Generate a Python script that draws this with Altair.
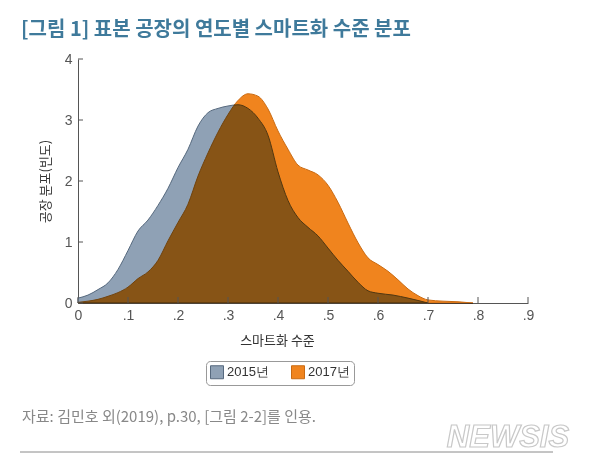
import altair as alt
import pandas as pd

# ---- data ----
x_2015 = [0, .02, .04, .06, .08, .10, .12, .14, .16, .18, .20, .22, .24, .26, .28, .30,
          .32, .34, .36, .38, .40, .42, .44, .46, .48, .50, .52, .54, .56, .58, .60,
          .63, .66, .70]
y_2015 = [0.08, 0.13, 0.22, 0.33, 0.55, 0.86, 1.18, 1.36, 1.60, 1.88, 2.22, 2.52, 2.90,
          3.12, 3.19, 3.23, 3.25, 3.19, 3.03, 2.75, 2.15, 1.68, 1.40, 1.24, 1.10, 0.90,
          0.70, 0.52, 0.34, 0.20, 0.16, 0.13, 0.08, 0.0]

x_2017 = [0, .02, .04, .06, .08, .10, .12, .14, .16, .18, .20, .22, .24, .26, .28, .30,
          .32, .34, .36, .38, .40, .42, .44, .46, .48, .50, .52, .54, .56, .58, .60,
          .62, .64, .66, .68, .70, .73, .76, .79]
y_2017 = [0.01, 0.03, 0.06, 0.11, 0.17, 0.26, 0.40, 0.51, 0.70, 1.02, 1.32, 1.62, 2.08,
          2.46, 2.80, 3.09, 3.32, 3.43, 3.39, 3.18, 2.82, 2.52, 2.26, 2.18, 2.10, 1.93,
          1.65, 1.31, 0.99, 0.74, 0.63, 0.52, 0.38, 0.23, 0.12, 0.05, 0.03, 0.02, 0.0]

years = ["2015년", "2017년"]
fill_colors = ["#8fa1b5", "#f0841e"]
stroke_colors = ["#56697e", "#c96a12"]

x_ticks = [0, .1, .2, .3, .4, .5, .6, .7, .8, .9]
y_ticks = [0, 1, 2, 3, 4]

title_text = "[그림 1] 표본 공장의 연도별 스마트화 수준 분포"
x_title = "스마트화 수준"
y_title = "공장 분포(빈도)"
source_text = "자료: 김민호 외(2019), p.30, [그림 2-2]를 인용."
logo_text = "NEWSIS"

KFONT = "Noto Sans CJK KR"
NFONT = "Liberation Sans"

df15 = pd.DataFrame({"x": x_2015, "y": y_2015, "year": years[0]})
df17 = pd.DataFrame({"x": x_2017, "y": y_2017, "year": years[1]})

xscale = alt.Scale(domain=[0, 0.9], nice=False, zero=False)
yscale = alt.Scale(domain=[0, 4], nice=False)

xaxis = alt.Axis(values=x_ticks,
                 labelExpr="datum.value == 0 ? '0' : replace(format(datum.value, '.1f'), '0.', '.')",
                 ticks=False, tickSize=0, grid=False, domainColor="#555", domainWidth=1,
                 labelFlush=False, labelFont=NFONT, labelFontSize=14, labelColor="#555",
                 labelPadding=5,
                 title=x_title, titleFont=KFONT, titleFontSize=13, titleFontWeight="normal",
                 titleColor="#333", titleX=199, titleY=37, titleBaseline="middle")
yaxis = alt.Axis(values=y_ticks, ticks=False, tickSize=0, grid=False, domainColor="#555",
                 domainWidth=1, labelFlush=False, labelFont=NFONT, labelFontSize=14,
                 labelColor="#555", labelPadding=6, title=y_title, titleFont=KFONT,
                 titleFontSize=13, titleFontWeight="normal", titleColor="#333", titleX=-33,
                 titleY=122, titleBaseline="middle", titleAngle=270)

legend = alt.Legend(title=None, orient="none", legendX=128, legendY=302, direction="horizontal",
                    symbolType="square", symbolSize=169, symbolStrokeWidth=1,
                    labelFont=NFONT, labelFontSize=13, labelColor="#333", labelOffset=3,
                    padding=4, strokeColor="#999", cornerRadius=4, columnPadding=20)

fill_enc = alt.Fill("year:N", scale=alt.Scale(domain=years, range=fill_colors), legend=legend)
stroke_enc = alt.Stroke("year:N", scale=alt.Scale(domain=years, range=stroke_colors), legend=legend)

area15 = alt.Chart(df15).mark_area(interpolate="monotone", strokeWidth=1, opacity=1).encode(
    x=alt.X("x:Q", scale=xscale, axis=xaxis),
    y=alt.Y("y:Q", scale=yscale, axis=yaxis),
    fill=fill_enc, stroke=stroke_enc,
)
area17 = alt.Chart(df17).mark_area(interpolate="monotone", strokeWidth=1, opacity=1,
                                   blend="multiply").encode(
    x=alt.X("x:Q", scale=xscale, axis=xaxis),
    y=alt.Y("y:Q", scale=yscale, axis=yaxis),
    fill=fill_enc, stroke=stroke_enc,
)

xt = alt.Chart(pd.DataFrame({"x": x_ticks})).mark_rule(color="#555", strokeWidth=1).encode(
    x=alt.X("x:Q", scale=xscale, axis=xaxis), y=alt.value(244), y2=alt.value(238))
yt = alt.Chart(pd.DataFrame({"y": y_ticks})).mark_rule(color="#555", strokeWidth=1).encode(
    y=alt.Y("y:Q", scale=yscale, axis=yaxis), x=alt.value(0), x2=alt.value(5))

title = alt.Chart(pd.DataFrame({"t": [title_text]})).mark_text(
    align="left", baseline="middle", font=KFONT, fontSize=20, fontWeight="bold",
    color="#3f7a9b").encode(text="t:N", x=alt.value(-57), y=alt.value(-29))
source = alt.Chart(pd.DataFrame({"t": [source_text]})).mark_text(
    align="left", baseline="middle", font=KFONT, fontSize=15, color="#888").encode(
    text="t:N", x=alt.value(-56), y=alt.value(358))
logo = alt.Chart(pd.DataFrame({"t": [logo_text]})).mark_text(
    align="center", baseline="middle", font=NFONT, fontSize=31, fontWeight="bold",
    fontStyle="italic", fill="white", stroke="#c8c8c8", strokeWidth=1.2).encode(
    text="t:N", x=alt.value(430), y=alt.value(379))
hline = alt.Chart(pd.DataFrame({"a": [0]})).mark_rule(color="#8a8a8a", strokeWidth=1).encode(
    x=alt.value(-58), x2=alt.value(475), y=alt.value(393))

chart = alt.layer(area15, area17, xt, yt, title, source, hline, logo).properties(
    width=450, height=244,
    padding={"left": 70, "top": 51, "right": 58, "bottom": 157},
    autosize=alt.AutoSizeParams(type="none"),
    background="white",
).configure_view(stroke=None)

chart.save("out.html", embed_options={"renderer": "svg", "actions": False})
